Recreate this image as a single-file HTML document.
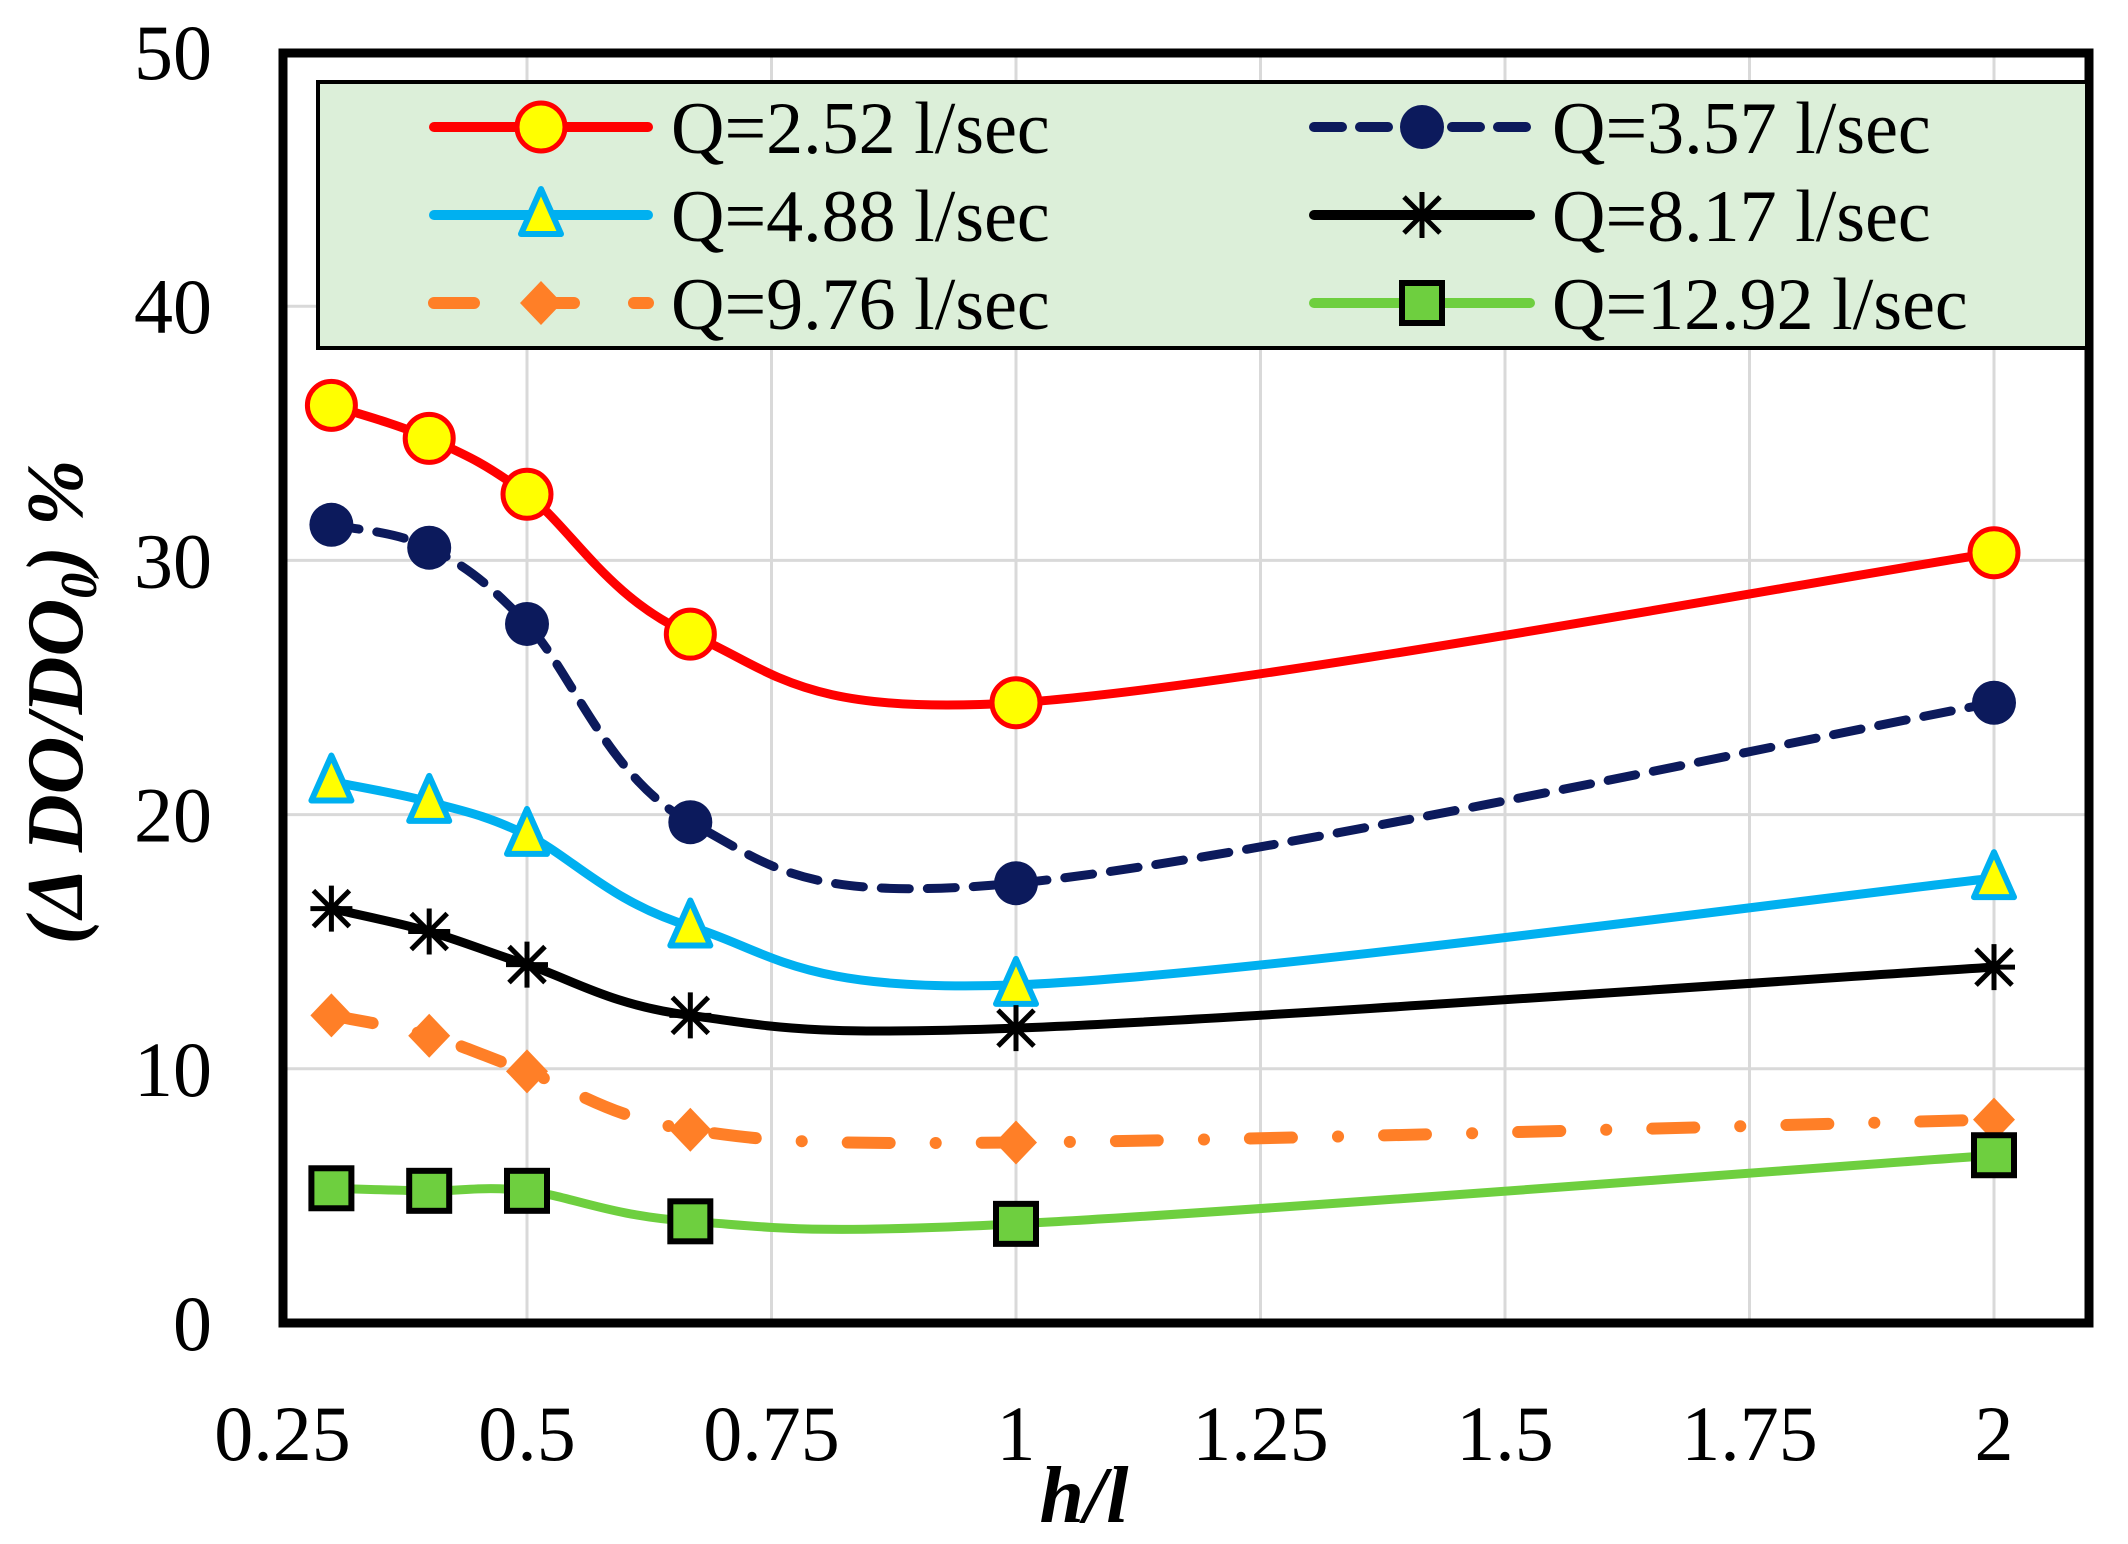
<!DOCTYPE html>
<html><head><meta charset="utf-8"><style>
html,body{margin:0;padding:0;background:#fff;}
svg{display:block;}
text{font-family:"Liberation Serif",serif;fill:#000;}
</style></head><body>
<svg id="chart" width="2128" height="1544" viewBox="0 0 2128 1544" xmlns="http://www.w3.org/2000/svg">
<g id="grid"></g>
<g id="series"></g>
<rect x="283" y="53" width="1806" height="1270" fill="none" stroke="#000" stroke-width="9"/>
<g id="ticks"></g>
<text x="1084" y="1522" font-size="80" font-weight="bold" font-style="italic" text-anchor="middle">h/l</text>
<text transform="translate(82,702) rotate(-90)" font-size="80" font-weight="bold" font-style="italic" text-anchor="middle">(Δ DO/DO<tspan font-size="52" dy="14">0</tspan><tspan dy="-14">) %</tspan></text>
<g id="legend">
<rect x="318" y="82" width="1769" height="266" fill="#dcefd9" stroke="#000" stroke-width="4"/>
</g>
</svg>
<script>
const xValues = [0.3, 0.4, 0.5, 0.667, 1, 2];
const seriesNames = ["Q=2.52 l/sec","Q=3.57 l/sec","Q=4.88 l/sec","Q=8.17 l/sec","Q=9.76 l/sec","Q=12.92 l/sec"];
const q252 = [36.1, 34.8, 32.6, 27.1, 24.4, 30.3];
const q357 = [31.4, 30.5, 27.5, 19.7, 17.3, 24.4];
const q488 = [21.3, 20.5, 19.2, 15.6, 13.3, 17.5];
const q817 = [16.3, 15.4, 14.1, 12.1, 11.6, 14.0];
const q976 = [12.1, 11.3, 9.9, 7.6, 7.1, 8.0];
const q1292 = [5.3, 5.2, 5.2, 4.0, 3.9, 6.6];
const xTicks = [0.25, 0.5, 0.75, 1, 1.25, 1.5, 1.75, 2];
const xTickLabels = ["0.25","0.5","0.75","1","1.25","1.5","1.75","2"];
const yTicks = [0, 10, 20, 30, 40, 50];
const yTickLabels = ["0","10","20","30","40","50"];

const NS = "http://www.w3.org/2000/svg";
function xs(v){ return 1016 + 978*(v-1); }
function ys(v){ return 1323 - 25.42*v; }
function mk(tag, attrs, parent){ const e=document.createElementNS(NS,tag); for(const k in attrs) e.setAttribute(k,attrs[k]); parent.appendChild(e); return e; }

const grid=document.getElementById('grid');
xTicks.forEach(t=>{ if(t>0.25){ const l=mk('line',{x1:xs(t),x2:xs(t),y1:53,y2:1322,stroke:'#d9d9d9','stroke-width':3},grid);

}});
yTicks.forEach(t=>{ if(t>0 && t<50){ const l=mk('line',{x1:283,x2:2089,y1:ys(t),y2:ys(t),stroke:'#d9d9d9','stroke-width':3},grid);

}});

const ticks=document.getElementById('ticks');
xTicks.forEach((t,i)=>{ const e=mk('text',{x:xs(t),y:1460,'font-size':78,'text-anchor':'middle'},ticks); e.textContent=xTickLabels[i];

});
yTicks.forEach((t,i)=>{ const e=mk('text',{x:212,y:ys(t)+27,'font-size':78,'text-anchor':'end'},ticks); e.textContent=yTickLabels[i];

});

function smoothPath(pts){
  let d='M'+pts[0][0]+','+pts[0][1];
  for(let i=0;i<pts.length-1;i++){
    const p0=pts[Math.max(0,i-1)], p1=pts[i], p2=pts[i+1], p3=pts[Math.min(pts.length-1,i+2)];
    const c1=[p1[0]+(p2[0]-p0[0])/6, p1[1]+(p2[1]-p0[1])/6];
    const c2=[p2[0]-(p3[0]-p1[0])/6, p2[1]-(p3[1]-p1[1])/6];
    d+=' C'+c1[0]+','+c1[1]+' '+c2[0]+','+c2[1]+' '+p2[0]+','+p2[1];
  }
  return d;
}
function marker(type,x,y,parent,color){
  let e;
  if(type==='circleY') e=mk('circle',{cx:x,cy:y,r:24,fill:'#ffff00',stroke:'#ff0000','stroke-width':5},parent);
  else if(type==='circleN') e=mk('circle',{cx:x,cy:y,r:22,fill:'#0c1a5c'},parent);
  else if(type==='tri') e=mk('polygon',{points:`${x},${y-26} ${x+20},${y+19} ${x-20},${y+19}`,fill:'#ffff00',stroke:'#00b0f0','stroke-width':6,'stroke-linejoin':'round'},parent);
  else if(type==='star'){ e=mk('g',{stroke:'#000','stroke-width':5},parent);
    mk('line',{x1:x-21,y1:y,x2:x+21,y2:y},e); mk('line',{x1:x,y1:y-23,x2:x,y2:y+23},e);
    mk('line',{x1:x-18,y1:y-18,x2:x+18,y2:y+18},e); mk('line',{x1:x-18,y1:y+18,x2:x+18,y2:y-18},e); }
  else if(type==='diamond') e=mk('polygon',{points:`${x},${y-22} ${x+21},${y} ${x},${y+22} ${x-21},${y}`,fill:'#ff7f27'},parent);
  else if(type==='square') e=mk('rect',{x:x-20,y:y-20,width:40,height:40,fill:'#6ecf3f',stroke:'#000','stroke-width':6},parent);
  return e;
}
const defs=[
 {vals:q252,color:'#ff0000',dash:'',m:'circleY',name:'series-q-2-52'},
 {vals:q357,color:'#0c1a5c',dash:'28 18',m:'circleN',name:'series-q-3-57'},
 {vals:q488,color:'#00b0f0',dash:'',m:'tri',name:'series-q-4-88'},
 {vals:q817,color:'#000000',dash:'',m:'star',name:'series-q-8-17'},
 {vals:q976,color:'#ff7f27',dash:'42 46 0.1 46',m:'diamond',name:'series-q-9-76'},
 {vals:q1292,color:'#6ecf3f',dash:'',m:'square',name:'series-q-12-92'}
];
const sl=document.getElementById('series');
defs.forEach(s=>{
  const g=mk('g',{},sl);
  
  
  const pts=s.vals.map((v,i)=>[xs(xValues[i]),ys(v)]);
  const p=mk('path',{d:smoothPath(pts),fill:'none',stroke:s.color,'stroke-width':s.m==='diamond'?12:9,'stroke-linecap':'round'},g);
  if(s.dash) p.setAttribute('stroke-dasharray',s.dash);
  
  
  pts.forEach(pt=>{ const e=marker(s.m,pt[0],pt[1],g,s.color);
    
    });
});

const lg=document.getElementById('legend');
const rowsY=[127,215,303];
defs.forEach((s,i)=>{
  const col=i%2, row=Math.floor(i/2);
  const x0=col?1314:434, x1=col?1530:648, y=rowsY[row], mx=(x0+x1)/2;
  const g=mk('g',{},lg);
  
  
  const l=mk('line',{x1:x0,x2:x1,y1:y,y2:y,stroke:s.color,'stroke-width':s.m==='diamond'?12:10,'stroke-linecap':'round'},g);
  if(s.m==='diamond') l.setAttribute('stroke-dasharray','40 60');
  else if(s.dash) l.setAttribute('stroke-dasharray','28 18');
  marker(s.m,mx,y,g,s.color);
  const t=mk('text',{x:col?1552:671,y:y+26,'font-size':74},g); t.textContent=seriesNames[i];
});
</script>
</body></html>
